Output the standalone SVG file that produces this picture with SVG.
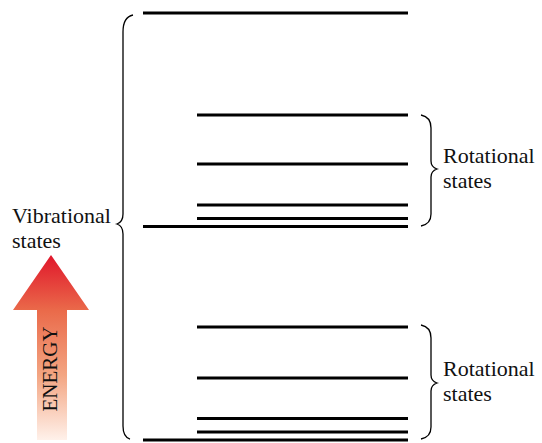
<svg xmlns="http://www.w3.org/2000/svg" width="542" height="443" viewBox="0 0 542 443">
<defs>
<linearGradient id="eg" x1="0" y1="0" x2="0" y2="1">
<stop offset="0" stop-color="#e0162b"/>
<stop offset="0.3" stop-color="#ea6a4a"/>
<stop offset="0.65" stop-color="#f3a582"/>
<stop offset="1" stop-color="#fff1ea"/>
</linearGradient>
<style>
.lvl{stroke:#000;stroke-width:3;fill:none}
.br{stroke:#000;stroke-width:1.3;fill:none}
.t{font-family:"Liberation Serif",serif;font-size:22px;fill:#111}
</style>
</defs>
<g id="levels">
<line class="lvl" x1="143" y1="13" x2="408" y2="13"/>
<line class="lvl" x1="197" y1="115" x2="408" y2="115"/>
<line class="lvl" x1="197" y1="164" x2="408" y2="164"/>
<line class="lvl" x1="197" y1="205" x2="408" y2="205"/>
<line class="lvl" x1="197" y1="218.5" x2="408" y2="218.5"/>
<line class="lvl" x1="143" y1="226.5" x2="408" y2="226.5"/>
<line class="lvl" x1="197" y1="327" x2="408" y2="327"/>
<line class="lvl" x1="197" y1="378" x2="408" y2="378"/>
<line class="lvl" x1="197" y1="418.5" x2="408" y2="418.5"/>
<line class="lvl" x1="197" y1="432" x2="408" y2="432"/>
<line class="lvl" x1="143" y1="440" x2="408" y2="440"/>
</g>
<g id="vib-brace">
<path class="br" d="M133,15 Q123,17 123,32 L123,214 Q123,222 117,224 Q123,226 123,234 L123,426 Q123,437 130,439"/>
</g>
<g id="rot-brace-1">
<path class="br" d="M421,115 Q431,117 431,128 L431,161 Q431,167 437,169 Q431,171 431,177 L431,214 Q431,224 421,226"/>
</g>
<g id="rot-brace-2">
<path class="br" d="M421,325 Q431,327 431,338 L431,375 Q431,381 437,383 Q431,385 431,391 L431,427 Q431,437 421,439"/>
</g>
<g id="labels">
<text class="t" x="12" y="223">Vibrational</text>
<text class="t" x="12" y="248">states</text>
<text class="t" x="443" y="163">Rotational</text>
<text class="t" x="443" y="188">states</text>
<text class="t" x="443" y="376">Rotational</text>
<text class="t" x="443" y="401">states</text>
</g>
<g id="energy">
<path d="M51,255 L89,310 L67,310 L67,440 L37,440 L37,310 L13,310 Z" fill="url(#eg)"/>
<text class="t" transform="translate(57,369) rotate(-90)" text-anchor="middle" style="font-size:21px">ENERGY</text>
</g>
</svg>
